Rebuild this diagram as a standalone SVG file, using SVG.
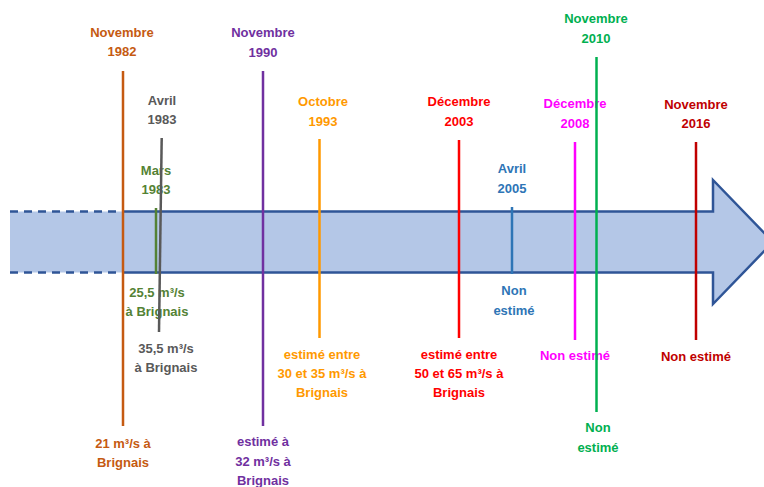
<svg xmlns="http://www.w3.org/2000/svg" width="764" height="487" viewBox="0 0 764 487">
<style>
text{font-family:"Liberation Sans",Arial,sans-serif;font-weight:bold;font-size:13px;text-anchor:middle}
.ln{fill:none;stroke-width:2.5}
</style>
<rect width="764" height="487" fill="#ffffff"/>
<g id="timeline-arrow">
<path d="M10,211.5 H713 V180 L773,242 L713,304 V272.5 H10 Z" fill="#B4C7E7"/>
<path d="M122,211.5 H713 V180 L773,242 L713,304 V272.5 H122" fill="none" stroke="#2F5597" stroke-width="2.5"/>
<path d="M10,211.5 H122 M10,272.5 H122" fill="none" stroke="#2F5597" stroke-width="2.5" stroke-dasharray="8 6"/>
</g>
<g id="nov1982" fill="#C55A11">
<text x="122" y="37">Novembre</text><text x="122" y="56">1982</text>
<text x="123" y="448">21 m³/s à</text><text x="123" y="467">Brignais</text>
<line class="ln" x1="123" y1="71" x2="123" y2="426" stroke="#C55A11" stroke-width="3"/>
</g>
<g id="mars1983" fill="#548235">
<text x="156" y="175">Mars</text><text x="156" y="194">1983</text>
<text x="157" y="297">25,5 m³/s</text><text x="157" y="316">à Brignais</text>
<line class="ln" x1="156" y1="208" x2="156" y2="274" stroke="#548235"/>
</g>
<g id="avr1983" fill="#595959">
<text x="162" y="105">Avril</text><text x="162" y="124">1983</text>
<text x="166" y="353">35,5 m³/s</text><text x="166" y="372">à Brignais</text>
<line class="ln" x1="161.7" y1="138" x2="159" y2="332" stroke="#595959"/>
</g>
<g id="nov1990" fill="#7030A0">
<text x="263" y="37">Novembre</text><text x="263" y="57">1990</text>
<text x="263" y="446">estimé à</text><text x="263" y="466">32 m³/s à</text><text x="263" y="485">Brignais</text>
<line class="ln" x1="263" y1="71" x2="263" y2="426" stroke="#7030A0" stroke-width="3"/>
</g>
<g id="oct1993" fill="#FF9900">
<text x="323" y="106">Octobre</text><text x="323" y="126">1993</text>
<text x="322" y="359">estimé entre</text><text x="322" y="378">30 et 35 m³/s à</text><text x="322" y="397">Brignais</text>
<line class="ln" x1="319.5" y1="139" x2="319.5" y2="338" stroke="#FF9900"/>
</g>
<g id="dec2003" fill="#FF0000">
<text x="459" y="106">Décembre</text><text x="459" y="126">2003</text>
<text x="459" y="359">estimé entre</text><text x="459" y="378">50 et 65 m³/s à</text><text x="459" y="397">Brignais</text>
<line class="ln" x1="459" y1="140" x2="459" y2="338" stroke="#FF0000"/>
</g>
<g id="avr2005" fill="#2E75B6">
<text x="512" y="173">Avril</text><text x="512" y="193">2005</text>
<text x="514" y="295">Non</text><text x="514" y="315">estimé</text>
<line class="ln" x1="512" y1="207" x2="512" y2="274" stroke="#2E75B6"/>
</g>
<g id="dec2008" fill="#FF00FF">
<text x="575" y="108">Décembre</text><text x="575" y="128">2008</text>
<text x="575" y="360">Non estimé</text>
<line class="ln" x1="575" y1="142" x2="575" y2="340" stroke="#FF00FF"/>
</g>
<g id="nov2010" fill="#00B050">
<text x="596" y="23">Novembre</text><text x="596" y="43">2010</text>
<text x="598" y="432">Non</text><text x="598" y="452">estimé</text>
<line class="ln" x1="596.5" y1="57" x2="596.5" y2="412" stroke="#00B050" stroke-width="3.5"/>
</g>
<g id="nov2016" fill="#C00000">
<text x="696" y="109">Novembre</text><text x="696" y="128">2016</text>
<text x="696" y="361">Non estimé</text>
<line class="ln" x1="696" y1="142" x2="696" y2="340" stroke="#C00000"/>
</g>
</svg>
